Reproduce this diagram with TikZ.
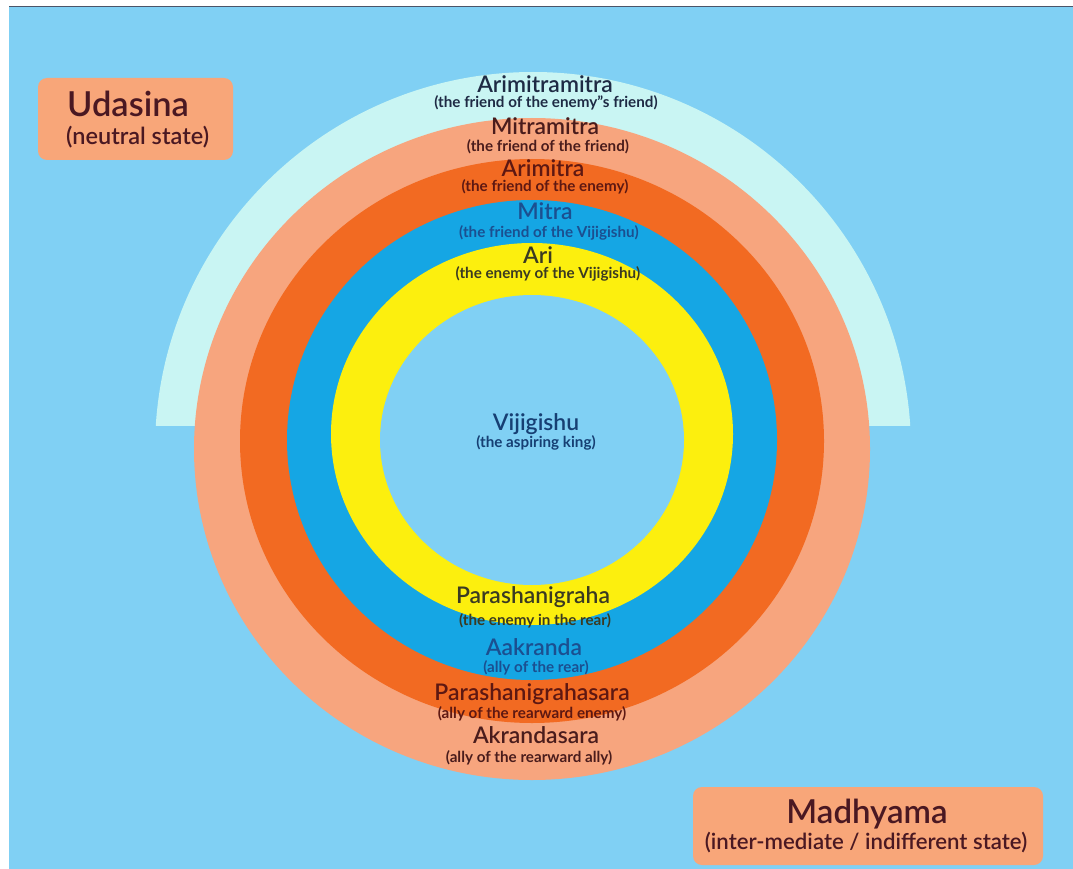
\documentclass[tikz,border=0pt]{standalone}
\usepackage{fontspec}
\setmainfont{Lato}
\IfFontExistsTF{Lato Semibold}{\newfontfamily\semifont{Lato Semibold}}{\newfontfamily\semifont[FakeBold=1]{Lato}}
\usepackage{tikz}
\usetikzlibrary{positioning}
\definecolor{sky}{HTML}{80D0F4}
\definecolor{pale}{HTML}{C9F5F3}
\definecolor{salmon}{HTML}{F7A57E}
\definecolor{tangerine}{HTML}{F26A22}
\definecolor{azure}{HTML}{15A6E4}
\definecolor{lemon}{HTML}{FCEF0E}
\definecolor{boxfill}{HTML}{F8A679}
\definecolor{navy}{HTML}{1E2A44}
\definecolor{maroon}{HTML}{4A1C1C}
\definecolor{rust}{HTML}{5E1812}
\definecolor{royal}{HTML}{1B4F90}
\definecolor{olive}{HTML}{3A3A22}
\definecolor{ink}{HTML}{4A1822}
\tikzstyle{title} = [inner sep=0pt, anchor=base, font=\semifont\fontsize{22.9}{22.9}\selectfont]
\tikzstyle{sub} = [inner sep=0pt, anchor=base, font=\bfseries\fontsize{15.2}{15.2}\selectfont]
\tikzstyle{box} = [rectangle, rounded corners=9pt, fill=boxfill]
\tikzstyle{big} = [inner sep=0pt, anchor=base, text=ink, font=\semifont\fontsize{33}{33}\selectfont]
\tikzstyle{bigsub} = [inner sep=0pt, anchor=base, text=ink, font=\semifont\fontsize{22.2}{22.2}\selectfont]

\begin{document}
\begin{tikzpicture}[x=1pt, y=-1pt]
        \useasboundingbox (0,0) rectangle (1073,869);
        \fill[white] (0,0) rectangle (1073,869);
        \fill[sky] (9,7) rectangle (1073,869);
        \draw[navy!80, line width=1.5pt] (9,6.5) -- (1073,6.5);
        \begin{scope}
            \clip (0,0) rectangle (1073,425);
            \fill[pale] (533,450) circle [radius=378];
        \end{scope}
        \fill[salmon] (532,449) ellipse [x radius=338, y radius=331];
        \fill[tangerine] (532,441) ellipse [x radius=292, y radius=282];
        \fill[azure] (532,440) ellipse [x radius=245, y radius=240];
        \fill[lemon] (532,434) ellipse [x radius=201, y radius=191];
        \fill[sky] (532,440) ellipse [x radius=152, y radius=145];

        \node (arimitramitra) [title, text=navy] at (545,93) {Arimitramitra};
        \node (arimitramitrasub) [sub, text=navy] at (546,108) {(the friend of the enemy"s friend)};
        \node (mitramitra) [title, text=maroon] at (545,135) {Mitramitra};
        \node (mitramitrasub) [sub, text=maroon] at (548,152) {(the friend of the friend)};
        \node (arimitra) [title, text=rust] at (543,177) {Arimitra};
        \node (arimitrasub) [sub, text=rust] at (545,192) {(the friend of the enemy)};
        \node (mitra) [title, text=royal] at (545,219) {Mitra};
        \node (mitrasub) [sub, text=royal] at (549,237) {(the friend of the Vijigishu)};
        \node (ari) [title, text=olive] at (538,263) {Ari};
        \node (arisub) [sub, text=olive] at (548,278) {(the enemy of the Vijigishu)};
        \node (vijigishu) [title, text=royal!80!black] at (536,430) {Vijigishu};
        \node (vijigishusub) [sub, text=royal!80!black] at (536,447) {(the aspiring king)};
        \node (parashanigraha) [title, text=olive] at (533,603) {Parashanigraha};
        \node (parashanigrahasub) [sub, text=olive] at (535,625) {(the enemy in the rear)};
        \node (aakranda) [title, text=royal] at (534,655) {Aakranda};
        \node (aakrandasub) [sub, text=royal] at (536,672) {(ally of the rear)};
        \node (parashanigrahasara) [title, text=rust] at (532,700) {Parashanigrahasara};
        \node (parashanigrahasarasub) [sub, text=rust] at (532,718) {(ally of the rearward enemy)};
        \node (akrandasara) [title, text=maroon] at (536,743) {Akrandasara};
        \node (akrandasarasub) [sub, text=maroon] at (529,762) {(ally of the rearward ally)};

        \node (udasinabox) [box, minimum width=195pt, minimum height=82pt] at (135.5,119) {};
        \node (udasina) [big, anchor=base west, font=\semifont\fontsize{34.4}{34.4}\selectfont] at (67,117) {Udasina};
        \node (udasinasub) [bigsub, anchor=base west, font=\semifont\fontsize{23.5}{23.5}\selectfont] at (66,145) {(neutral state)};

        \node (madhyamabox) [box, minimum width=350pt, minimum height=78pt] at (868,826) {};
        \node (madhyama) [big] at (867,823) {Madhyama};
        \node (madhyamasub) [bigsub] at (866,849) {(inter-mediate / indifferent state)};
    \end{tikzpicture}
\end{document}
